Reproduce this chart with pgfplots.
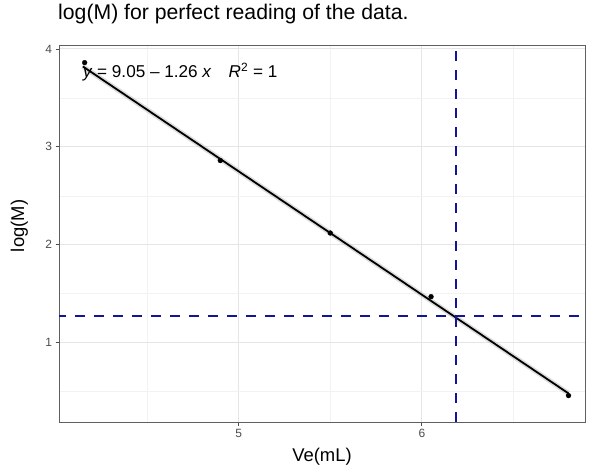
\documentclass[border=0pt]{standalone}
\usepackage{pgfplots}
\pgfplotsset{compat=1.18}
\usepackage{fontspec}
\setmainfont{Liberation Sans}
\definecolor{gridmaj}{gray}{0.90}
\definecolor{gridmin}{gray}{0.95}
\definecolor{ticklab}{gray}{0.30}
\definecolor{dblue}{RGB}{20,20,150}
\begin{document}
\begin{tikzpicture}
\path[use as bounding box] (-59bp,-47bp) rectangle (537bp,422bp);
\begin{axis}[
  at={(0,0)}, anchor=south west,
  scale only axis, width=526bp, height=377bp,
  xmin=4.02, xmax=6.89, ymin=0.19, ymax=4.04,
  xtick={5,6}, ytick={1,2,3,4},
  minor xtick={4.5,5.5,6.5}, minor ytick={0.5,1.5,2.5,3.5},
  grid=both,
  major grid style={gridmaj, line width=0.9bp},
  minor grid style={gridmin, line width=0.5bp},
  axis line style={gray!75!black, line width=0.8bp},
  tick style={gray!60!black, line width=0.8bp},
  major tick length=3.5bp, minor tick length=0pt,
  tick align=outside, xtick pos=bottom, ytick pos=left,
  ticklabel style={font=\fontsize{12}{14}\selectfont, text=ticklab},
  /pgf/number format/assume math mode=true,
  xlabel={Ve(mL)}, ylabel={log(M)},
  label style={font=\fontsize{18.5}{22}\selectfont},
  xlabel style={at={(axis description cs:0.5,0)}, anchor=base, yshift=-39bp},
  ylabel style={at={(axis description cs:0,0.52)}, anchor=base, yshift=35bp},
  title={log(M) for perfect reading of the data.},
  title style={font=\fontsize{21.3}{25}\selectfont, anchor=base west, inner sep=0pt, at={(axis description cs:0,1)}, xshift=-1bp, yshift=20bp},
  clip=true,
]
% confidence ribbon (approximate)
\addplot[gray!45, line width=5bp, opacity=0.6] coordinates {(4.15,3.821) (6.80,0.482)};
% fitted line
\addplot[black, line width=1.8bp] coordinates {(4.15,3.821) (6.80,0.482)};
% data points
\addplot[only marks, mark=*, mark size=2.4bp, black] coordinates {
  (4.16,3.86) (4.90,2.86) (5.50,2.12) (6.05,1.47) (6.80,0.46)
};
% reference lines
\addplot[dblue, line width=2bp, dash pattern=on 10bp off 9bp] coordinates {(6.186,0) (6.186,4.2)};
\addplot[dblue, line width=2bp, dash pattern=on 10bp off 9bp] coordinates {(3.9,1.27) (7.0,1.27)};
\node[anchor=base west, font=\fontsize{17.2}{20}\selectfont, inner sep=0pt] at (axis cs:4.15,3.71)
  {\textit{y} = 9.05 -- 1.26 \textit{x}\quad \textit{R}\textsuperscript{2} = 1};
\end{axis}
\end{tikzpicture}
\end{document}
